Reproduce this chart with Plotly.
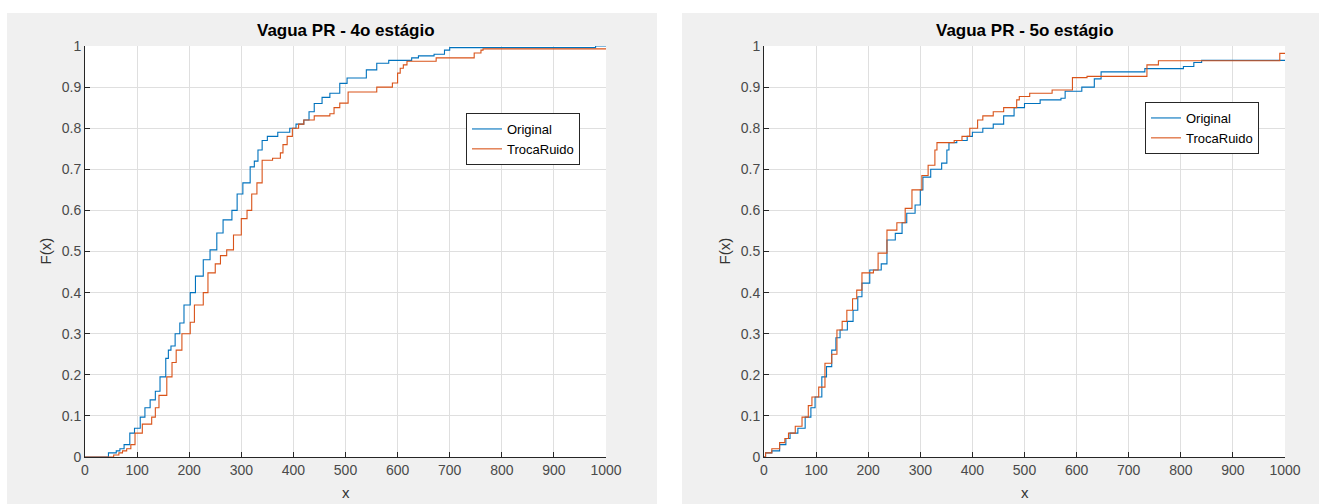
import plotly.graph_objects as go

# ---- data ----
left_orig_x = [0, 42, 45, 60, 67, 75, 86, 95, 106, 115, 125, 135, 144, 155, 160, 165, 173, 182, 190, 202, 212, 227, 240, 253, 265, 282, 292, 303, 317, 325, 332, 340, 350, 370, 393, 405, 420, 430, 440, 455, 470, 489, 503, 540, 560, 583, 627, 640, 670, 690, 700, 969, 980, 1000]
left_orig_y = [0, 0, 0.01, 0.015, 0.02, 0.03, 0.058, 0.07, 0.097, 0.12, 0.139, 0.16, 0.195, 0.24, 0.26, 0.27, 0.30, 0.326, 0.37, 0.40, 0.44, 0.48, 0.504, 0.545, 0.577, 0.60, 0.64, 0.667, 0.706, 0.72, 0.747, 0.77, 0.78, 0.79, 0.80, 0.81, 0.82, 0.84, 0.86, 0.875, 0.885, 0.909, 0.922, 0.942, 0.958, 0.965, 0.971, 0.976, 0.98, 0.99, 0.996, 0.996, 1.0, 1.0]

left_noise_x = [0, 52, 55, 65, 72, 80, 88, 96, 110, 128, 135, 142, 157, 167, 175, 186, 202, 210, 227, 236, 250, 260, 272, 285, 300, 311, 320, 330, 340, 360, 375, 380, 388, 398, 410, 420, 440, 470, 478, 489, 505, 560, 590, 600, 605, 611, 618, 674, 747, 760, 764, 1000]
left_noise_y = [0, 0, 0.005, 0.01, 0.015, 0.02, 0.03, 0.058, 0.08, 0.097, 0.12, 0.15, 0.195, 0.23, 0.26, 0.30, 0.328, 0.37, 0.40, 0.448, 0.47, 0.49, 0.504, 0.54, 0.58, 0.60, 0.64, 0.667, 0.722, 0.727, 0.74, 0.76, 0.78, 0.80, 0.81, 0.82, 0.83, 0.835, 0.85, 0.861, 0.888, 0.90, 0.91, 0.934, 0.946, 0.954, 0.963, 0.971, 0.983, 0.99, 0.993, 0.993]

right_orig_x = [0, 3, 15, 30, 42, 50, 65, 79, 90, 98, 111, 120, 130, 138, 146, 160, 171, 180, 188, 203, 225, 236, 252, 265, 274, 290, 300, 305, 320, 341, 351, 355, 370, 390, 400, 420, 440, 460, 480, 500, 530, 570, 578, 610, 634, 647, 731, 805, 825, 840, 1000]
right_orig_y = [0, 0.01, 0.015, 0.03, 0.045, 0.058, 0.07, 0.097, 0.12, 0.146, 0.195, 0.22, 0.26, 0.29, 0.309, 0.33, 0.357, 0.39, 0.423, 0.455, 0.47, 0.528, 0.544, 0.57, 0.593, 0.613, 0.65, 0.681, 0.70, 0.715, 0.747, 0.765, 0.77, 0.78, 0.79, 0.80, 0.81, 0.83, 0.85, 0.86, 0.869, 0.873, 0.89, 0.90, 0.92, 0.937, 0.945, 0.95, 0.96, 0.965, 0.965]

right_noise_x = [0, 3, 15, 30, 40, 47, 60, 73, 85, 92, 105, 117, 130, 140, 150, 159, 170, 178, 188, 210, 219, 236, 255, 271, 284, 303, 315, 328, 332, 365, 380, 395, 410, 420, 440, 460, 485, 490, 510, 553, 592, 620, 735, 757, 990, 1000]
right_noise_y = [0, 0.01, 0.02, 0.035, 0.045, 0.058, 0.075, 0.097, 0.125, 0.146, 0.17, 0.228, 0.25, 0.309, 0.33, 0.357, 0.385, 0.406, 0.448, 0.455, 0.496, 0.552, 0.57, 0.605, 0.65, 0.685, 0.71, 0.747, 0.765, 0.77, 0.78, 0.80, 0.82, 0.83, 0.84, 0.85, 0.869, 0.877, 0.885, 0.893, 0.923, 0.926, 0.954, 0.964, 0.982, 0.982]

series_names = ["Original", "TrocaRuido"]
titles = ["Vagua PR - 4o estágio", "Vagua PR - 5o estágio"]
x_ticks = [0, 100, 200, 300, 400, 500, 600, 700, 800, 900, 1000]
y_ticks = [0, 0.1, 0.2, 0.3, 0.4, 0.5, 0.6, 0.7, 0.8, 0.9, 1]
y_tick_text = ["0", "0.1", "0.2", "0.3", "0.4", "0.5", "0.6", "0.7", "0.8", "0.9", "1"]

# ---- layout geometry ----
W, H = 1319, 504
BLUE, ORANGE = "#0072BD", "#D95319"
FONT = "Liberation Sans"

def px(x):
    return min(max(x / W, 0), 1)

def py(y):
    return min(max(1 - y / H, 0), 1)

xdom1 = [px(85), px(606)]
xdom2 = [px(764), px(1285)]
ydom = [py(457), py(46)]

fig = go.Figure()

line_kw = dict(mode="lines", line_shape="hv")
fig.add_trace(go.Scatter(x=left_orig_x, y=left_orig_y, name=series_names[0], line=dict(color=BLUE, width=1.1), xaxis="x", yaxis="y", legend="legend", **line_kw))
fig.add_trace(go.Scatter(x=left_noise_x, y=left_noise_y, name=series_names[1], line=dict(color=ORANGE, width=1.1), xaxis="x", yaxis="y", legend="legend", **line_kw))
fig.add_trace(go.Scatter(x=right_orig_x, y=right_orig_y, name=series_names[0], line=dict(color=BLUE, width=1.1), xaxis="x2", yaxis="y2", legend="legend2", **line_kw))
fig.add_trace(go.Scatter(x=right_noise_x, y=right_noise_y, name=series_names[1], line=dict(color=ORANGE, width=1.1), xaxis="x2", yaxis="y2", legend="legend2", **line_kw))

axis_common = dict(
    showgrid=True, gridcolor="#dfdfdf", gridwidth=1,
    showline=True, linecolor="#262626", linewidth=1,
    ticks="inside", ticklen=5, tickcolor="#262626",
    zeroline=False, tickfont=dict(family=FONT, size=14, color="#4a4a4a"),
    fixedrange=True, automargin=False,
)

fig.update_layout(
    width=W, height=H,
    margin=dict(l=0, r=0, t=0, b=0, autoexpand=False),
    paper_bgcolor="white", plot_bgcolor="white",
    font=dict(family=FONT),
    xaxis=dict(domain=xdom1, range=[0, 1000], tickvals=x_ticks, anchor="y", **axis_common),
    yaxis=dict(domain=ydom, range=[0, 1], tickvals=y_ticks, ticktext=y_tick_text, anchor="x", **axis_common),
    xaxis2=dict(domain=xdom2, range=[0, 1000], tickvals=x_ticks, anchor="y2", **axis_common),
    yaxis2=dict(domain=ydom, range=[0, 1], tickvals=y_ticks, ticktext=y_tick_text, anchor="x2", **axis_common),
    legend=dict(x=px(466), y=py(113), xanchor="left", yanchor="top", bgcolor="white",
                bordercolor="#262626", borderwidth=1, font=dict(family=FONT, size=13, color="#000"),
                tracegroupgap=0, itemwidth=30),
    legend2=dict(x=px(1145), y=py(102), xanchor="left", yanchor="top", bgcolor="white",
                 bordercolor="#262626", borderwidth=1, font=dict(family=FONT, size=13, color="#000"),
                 tracegroupgap=0, itemwidth=30),
    showlegend=True,
)

shapes = [
    dict(type="rect", xref="paper", yref="paper", x0=px(7), x1=px(657), y0=0, y1=py(13),
         fillcolor="#f0f0f0", line=dict(width=0), layer="below"),
    dict(type="rect", xref="paper", yref="paper", x0=px(682), x1=1, y0=0, y1=py(13),
         fillcolor="#f0f0f0", line=dict(width=0), layer="below"),
    dict(type="rect", xref="paper", yref="paper", x0=xdom1[0], x1=xdom1[1], y0=ydom[0], y1=ydom[1],
         fillcolor="white", line=dict(width=0), layer="below"),
    dict(type="rect", xref="paper", yref="paper", x0=xdom2[0], x1=xdom2[1], y0=ydom[0], y1=ydom[1],
         fillcolor="white", line=dict(width=0), layer="below"),
]
fig.update_layout(shapes=shapes)

annotations = []
for i, (xd, t) in enumerate([(xdom1, titles[0]), (xdom2, titles[1])]):
    cx = (xd[0] + xd[1]) / 2
    annotations.append(dict(text=f"<b>{t}</b>", x=cx, y=py(30), xref="paper", yref="paper",
                            showarrow=False, font=dict(family=FONT, size=17, color="#000"),
                            xanchor="center", yanchor="middle"))
    annotations.append(dict(text="x", x=cx, y=py(492), xref="paper", yref="paper",
                            showarrow=False, font=dict(family=FONT, size=15, color="#333"),
                            xanchor="center", yanchor="middle"))
    lx = px(45) if i == 0 else px(724)
    annotations.append(dict(text="F(x)", x=lx, y=(ydom[0] + ydom[1]) / 2, xref="paper", yref="paper",
                            showarrow=False, textangle=-90, font=dict(family=FONT, size=15, color="#333"),
                            xanchor="center", yanchor="middle"))
fig.update_layout(annotations=annotations)

fig.write_html(
    "out.html",
    config={"displayModeBar": False},
    post_script="document.body.style.margin='0';document.body.style.overflow='hidden';",
)
